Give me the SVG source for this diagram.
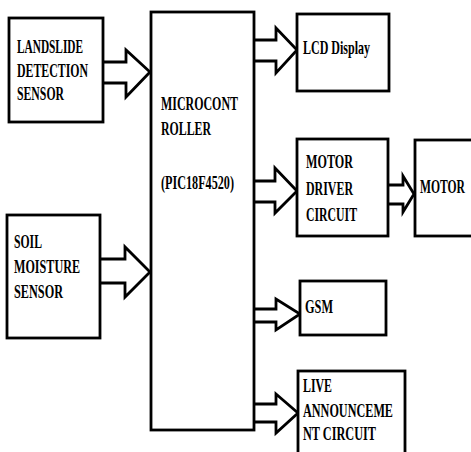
<svg xmlns="http://www.w3.org/2000/svg" width="471" height="452" viewBox="0 0 471 452">
<style>
.box{fill:#fff;stroke:#000;stroke-width:2.8}
.arr{fill:#fff;stroke:#000;stroke-width:2.8;stroke-linejoin:miter}
text{font-family:"Liberation Serif","Times New Roman",serif;font-weight:bold;font-size:19px;fill:#000}
</style>
<rect width="471" height="452" fill="#fff"/>
<g id="connectors">
<polyline class="arr" points="103,62 126,62 126,50 150,72 126,97 126,83 103,83"/>
<polyline class="arr" points="100,259 125,259 125,247 150,272 125,297 125,283 100,283"/>
<polyline class="arr" points="254,40 276,40 276,28 297,50 276,73 276,61 254,61"/>
<polyline class="arr" points="254,181 275,181 275,168 297,191 275,213 275,202 254,202"/>
<polyline class="arr" points="254,309 276,309 276,299 300,314 276,330 276,322 254,322"/>
<polyline class="arr" points="254,404 276,404 276,394 298,413 276,433 276,422 254,422"/>
<polyline class="arr" points="388,185 403,185 403,176 414,194 403,212 403,204 388,204"/>
</g>
<g id="landslide">
<rect class="box" x="9" y="18" width="94" height="104"/>
<text x="17" y="53" textLength="66" lengthAdjust="spacingAndGlyphs">LANDSLIDE</text>
<text x="17" y="77" textLength="71" lengthAdjust="spacingAndGlyphs">DETECTION</text>
<text x="17" y="100" textLength="47" lengthAdjust="spacingAndGlyphs">SENSOR</text>
</g>
<g id="soil">
<rect class="box" x="7" y="215" width="93" height="123"/>
<text x="14" y="248" textLength="28" lengthAdjust="spacingAndGlyphs">SOIL</text>
<text x="14" y="273" textLength="66" lengthAdjust="spacingAndGlyphs">MOISTURE</text>
<text x="14" y="298" textLength="49" lengthAdjust="spacingAndGlyphs">SENSOR</text>
</g>
<g id="micro">
<rect class="box" x="151" y="12" width="103" height="418"/>
<text x="161" y="110" textLength="77" lengthAdjust="spacingAndGlyphs">MICROCONT</text>
<text x="161" y="135" textLength="50" lengthAdjust="spacingAndGlyphs">ROLLER</text>
<text x="161" y="189" textLength="73" lengthAdjust="spacingAndGlyphs">(PIC18F4520)</text>
</g>
<g id="lcd">
<rect class="box" x="297" y="14" width="92" height="77"/>
<text x="303" y="54" textLength="67" lengthAdjust="spacingAndGlyphs">LCD Display</text>
</g>
<g id="driver">
<rect class="box" x="297" y="139" width="91" height="97"/>
<text x="306" y="168" textLength="47" lengthAdjust="spacingAndGlyphs">MOTOR</text>
<text x="306" y="195" textLength="47" lengthAdjust="spacingAndGlyphs">DRIVER</text>
<text x="306" y="221" textLength="51" lengthAdjust="spacingAndGlyphs">CIRCUIT</text>
</g>
<g id="motor">
<rect class="box" x="415" y="140" width="70" height="96"/>
<text x="420" y="193" textLength="45" lengthAdjust="spacingAndGlyphs">MOTOR</text>
</g>
<g id="gsm">
<rect class="box" x="300" y="281" width="86" height="54"/>
<text x="305" y="313" textLength="28" lengthAdjust="spacingAndGlyphs">GSM</text>
</g>
<g id="live">
<rect class="box" x="298" y="371" width="107" height="95"/>
<text x="303" y="392" textLength="29" lengthAdjust="spacingAndGlyphs">LIVE</text>
<text x="303" y="417" textLength="90" lengthAdjust="spacingAndGlyphs">ANNOUNCEME</text>
<text x="303" y="440" textLength="73" lengthAdjust="spacingAndGlyphs">NT CIRCUIT</text>
</g>
</svg>
